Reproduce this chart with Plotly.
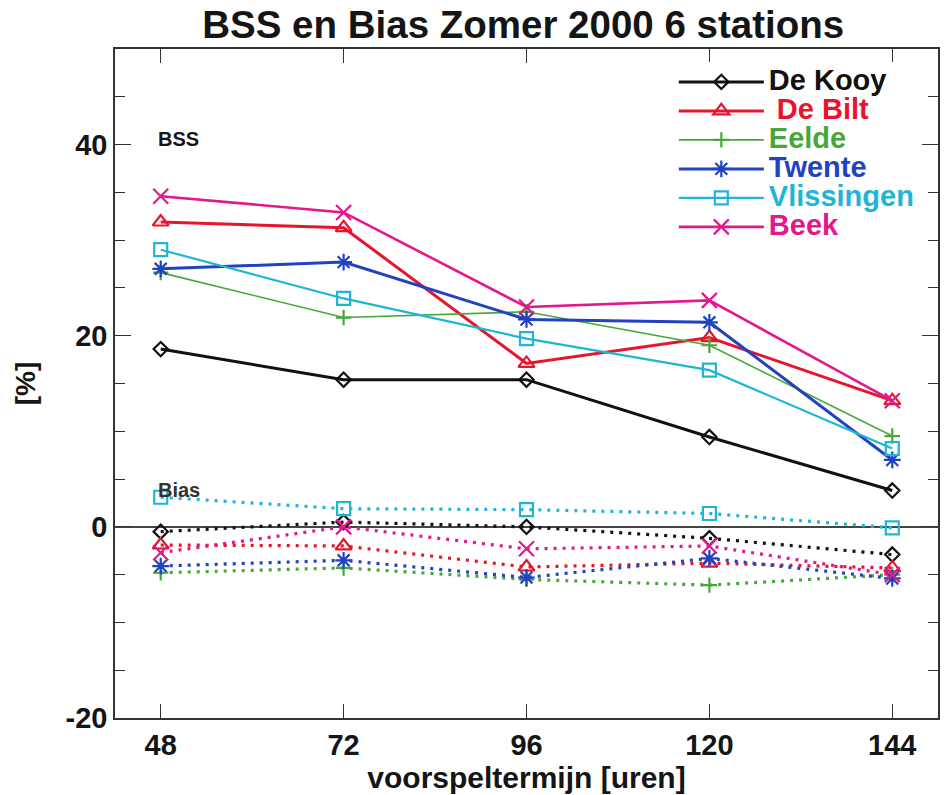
import plotly.graph_objects as go

# Forecast lead times (hours)
lead_hours = [48, 72, 96, 120, 144]

stations = ["De Kooy", "De Bilt", "Eelde", "Twente", "Vlissingen", "Beek"]

# Brier skill score per station [%]
bss_dekooy = [18.6, 15.4, 15.4, 9.4, 3.8]
bss_debilt = [31.9, 31.3, 17.1, 19.8, 13.2]
bss_eelde = [26.6, 21.9, 22.5, 19.0, 9.5]
bss_twente = [27.0, 27.7, 21.7, 21.4, 7.0]
bss_vlissingen = [29.0, 23.9, 19.7, 16.4, 8.2]
bss_beek = [34.6, 32.9, 23.0, 23.7, 13.2]

# Bias per station [%]
bias_dekooy = [-0.5, 0.5, 0.0, -1.2, -2.9]
bias_debilt = [-1.9, -2.0, -4.2, -3.8, -4.3]
bias_eelde = [-4.8, -4.3, -5.5, -6.1, -5.0]
bias_twente = [-4.1, -3.5, -5.3, -3.3, -5.4]
bias_vlissingen = [3.1, 1.9, 1.8, 1.4, -0.1]
bias_beek = [-2.7, 0.0, -2.3, -2.0, -5.0]

x_ticks = [48, 72, 96, 120, 144]
y_ticks = [-20, 0, 20, 40]

bss_series = [bss_dekooy, bss_debilt, bss_eelde, bss_twente, bss_vlissingen, bss_beek]
bias_series = [bias_dekooy, bias_debilt, bias_eelde, bias_twente, bias_vlissingen, bias_beek]

colors = ["#111111", "#e8142e", "#46a83a", "#2243bf", "#1fb6d6", "#e3178e"]
symbols = ["diamond-open", "triangle-up-open", "cross-thin-open", "asterisk-open",
           "square-open", "x-thin-open"]
marker_sizes = [11, 14, 11, 14, 13, 15]
line_widths = [3, 3, 1.6, 3, 2.2, 2.6]
legend_prefix = ["", "&nbsp;", "", "", "", ""]
bias_dash = "3px,6px"

FONT = "Liberation Sans, Arial, Helvetica, sans-serif"

fig = go.Figure()

for name, vals, col, sym, ms, lw, pre in zip(stations, bss_series, colors, symbols,
                                             marker_sizes, line_widths, legend_prefix):
    fig.add_trace(go.Scatter(
        x=lead_hours, y=vals, mode="lines+markers",
        name=f"<span style='color:{col};font-size:29px'>{pre}{name}</span>",
        line=dict(color=col, width=lw),
        marker=dict(symbol=sym, size=ms, color=col, line=dict(color=col, width=2.2)),
    ))

for name, vals, col, sym, ms in zip(stations, bias_series, colors, symbols, marker_sizes):
    fig.add_trace(go.Scatter(
        x=lead_hours, y=vals, mode="lines+markers", showlegend=False,
        line=dict(color=col, width=3.2, dash=bias_dash),
        marker=dict(symbol=sym, size=ms, color=col, line=dict(color=col, width=2.2)),
    ))

tick_font = dict(family=FONT, size=29, color="#151515", weight="bold")

fig.update_layout(
    width=947, height=795,
    margin=dict(l=115, r=7, t=49, b=77),
    paper_bgcolor="white", plot_bgcolor="white",
    title=dict(text="<b>BSS en Bias Zomer 2000 6 stations</b>",
               x=0.496, xref="paper", xanchor="center", y=0.9686, yanchor="middle",
               font=dict(family=FONT, size=38.5, color="#151515")),
    xaxis=dict(range=[42, 150], tickvals=x_ticks, ticks="inside", ticklen=14,
               tickcolor="#333", tickwidth=1, showgrid=False, zeroline=False,
               showline=True, linecolor="#333", linewidth=1.5, mirror="allticks",
               tickfont=tick_font,
               title=dict(text="<b>voorspeltermijn [uren]</b>", standoff=2,
                          font=dict(family=FONT, size=30, color="#151515"))),
    yaxis=dict(range=[-20, 50], tickvals=y_ticks, ticktext=[str(v) for v in y_ticks],
               ticks="inside", ticklen=16,
               tickcolor="#333", tickwidth=1, showgrid=False, zeroline=True,
               zerolinecolor="#444", zerolinewidth=1.5,
               showline=True, linecolor="#333", linewidth=1.5, mirror="allticks",
               tickfont=tick_font,
               minor=dict(dtick=5, tick0=0, ticks="inside", ticklen=10, tickcolor="#333"),
               title=dict(text="<b>[%]</b>", standoff=22,
                          font=dict(family=FONT, size=28, color="#151515"))),
    legend=dict(x=0.679, y=0.98, xanchor="left", yanchor="top",
                bgcolor="white", borderwidth=0,
                itemwidth=85, tracegroupgap=0,
                font=dict(family=FONT, size=20, weight="bold")),
    showlegend=True,
)

fig.add_annotation(x=48, y=40.6, xref="x", yref="y", text="<b>BSS</b>", showarrow=False,
                   xanchor="left", yanchor="middle", xshift=-5,
                   font=dict(family=FONT, size=20, color="#151515"))
fig.add_annotation(x=48, y=3.85, xref="x", yref="y", text="<b>Bias</b>", showarrow=False,
                   xanchor="left", yanchor="middle", xshift=-5,
                   font=dict(family=FONT, size=20, color="#333333"))

fig.write_html("out.html")
